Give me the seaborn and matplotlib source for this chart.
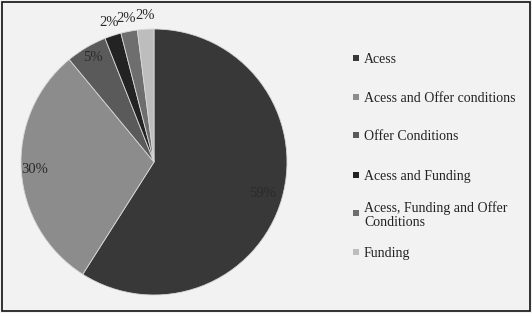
import numpy as np
import matplotlib
matplotlib.use("Agg")
import matplotlib.pyplot as plt
import seaborn as sns

categories = [
    "Acess",
    "Acess and Offer conditions",
    "Offer Conditions",
    "Acess and Funding",
    "Acess, Funding and Offer\nConditions",
    "Funding",
]
shares = [59, 30, 5, 2, 2, 2]
pct_labels = ["59%", "30%", "5%", "2%", "2%", "2%"]

sns.set_style("white")
plt.rcParams["font.family"] = ["Liberation Serif", "DejaVu Serif"]

grays = sns.color_palette(
    ["#383838", "#8c8c8c", "#5a5a5a", "#232323", "#6e6e6e", "#bdbdbd"]
)

W, H = 532, 313
fig = plt.figure(figsize=(W / 100, H / 100), dpi=100)
fig.patch.set_facecolor("#f2f2f2")

# pie centre ~ (154, 162) px, radius ~ 133 px
cx, cy, R = 154, 162, 133
ax = fig.add_axes([(cx - R) / W, (H - cy - R) / H, 2 * R / W, 2 * R / H])

wedges, _ = ax.pie(
    shares,
    colors=grays,
    startangle=90,
    counterclock=False,
    wedgeprops=dict(edgecolor="#d8d8d8", linewidth=0.6),
)
ax.set_xlim(-1, 1)
ax.set_ylim(-1, 1)
ax.set_aspect("equal")
ax.axis("off")

# label radius per slice (inside for the big ones, outside for the small ones)
label_r = [0.85, 0.9, 0.91, 1.1, 1.1, 1.1]
for w, txt, r in zip(wedges, pct_labels, label_r):
    ang = np.deg2rad((w.theta1 + w.theta2) / 2)
    ax.text(
        r * np.cos(ang),
        r * np.sin(ang),
        txt,
        ha="center",
        va="center",
        fontsize=10.5,
        color="#2a2a2a",
        clip_on=False,
    )

# legend entries drawn by hand, fixed pitch like the original
leg_y = [58, 97, 135, 175, 213, 252]
for w, lab, y in zip(wedges, categories, leg_y):
    fig.add_artist(
        plt.Rectangle(
            (353 / W, (H - y - 3) / H),
            6 / W,
            6 / H,
            transform=fig.transFigure,
            facecolor=w.get_facecolor(),
            edgecolor="none",
        )
    )
    fig.text(
        364 / W,
        (H - y) / H,
        lab,
        ha="left",
        va="center_baseline",
        fontsize=10,
        color="#222222",
        linespacing=1.1,
    )

# outer frame around the whole picture
fig.add_artist(
    plt.Rectangle(
        (0.004, 0.006),
        0.992,
        0.988,
        transform=fig.transFigure,
        fill=False,
        edgecolor="#111111",
        linewidth=1.2,
    )
)

fig.savefig("out.png", dpi=100, facecolor=fig.get_facecolor())
